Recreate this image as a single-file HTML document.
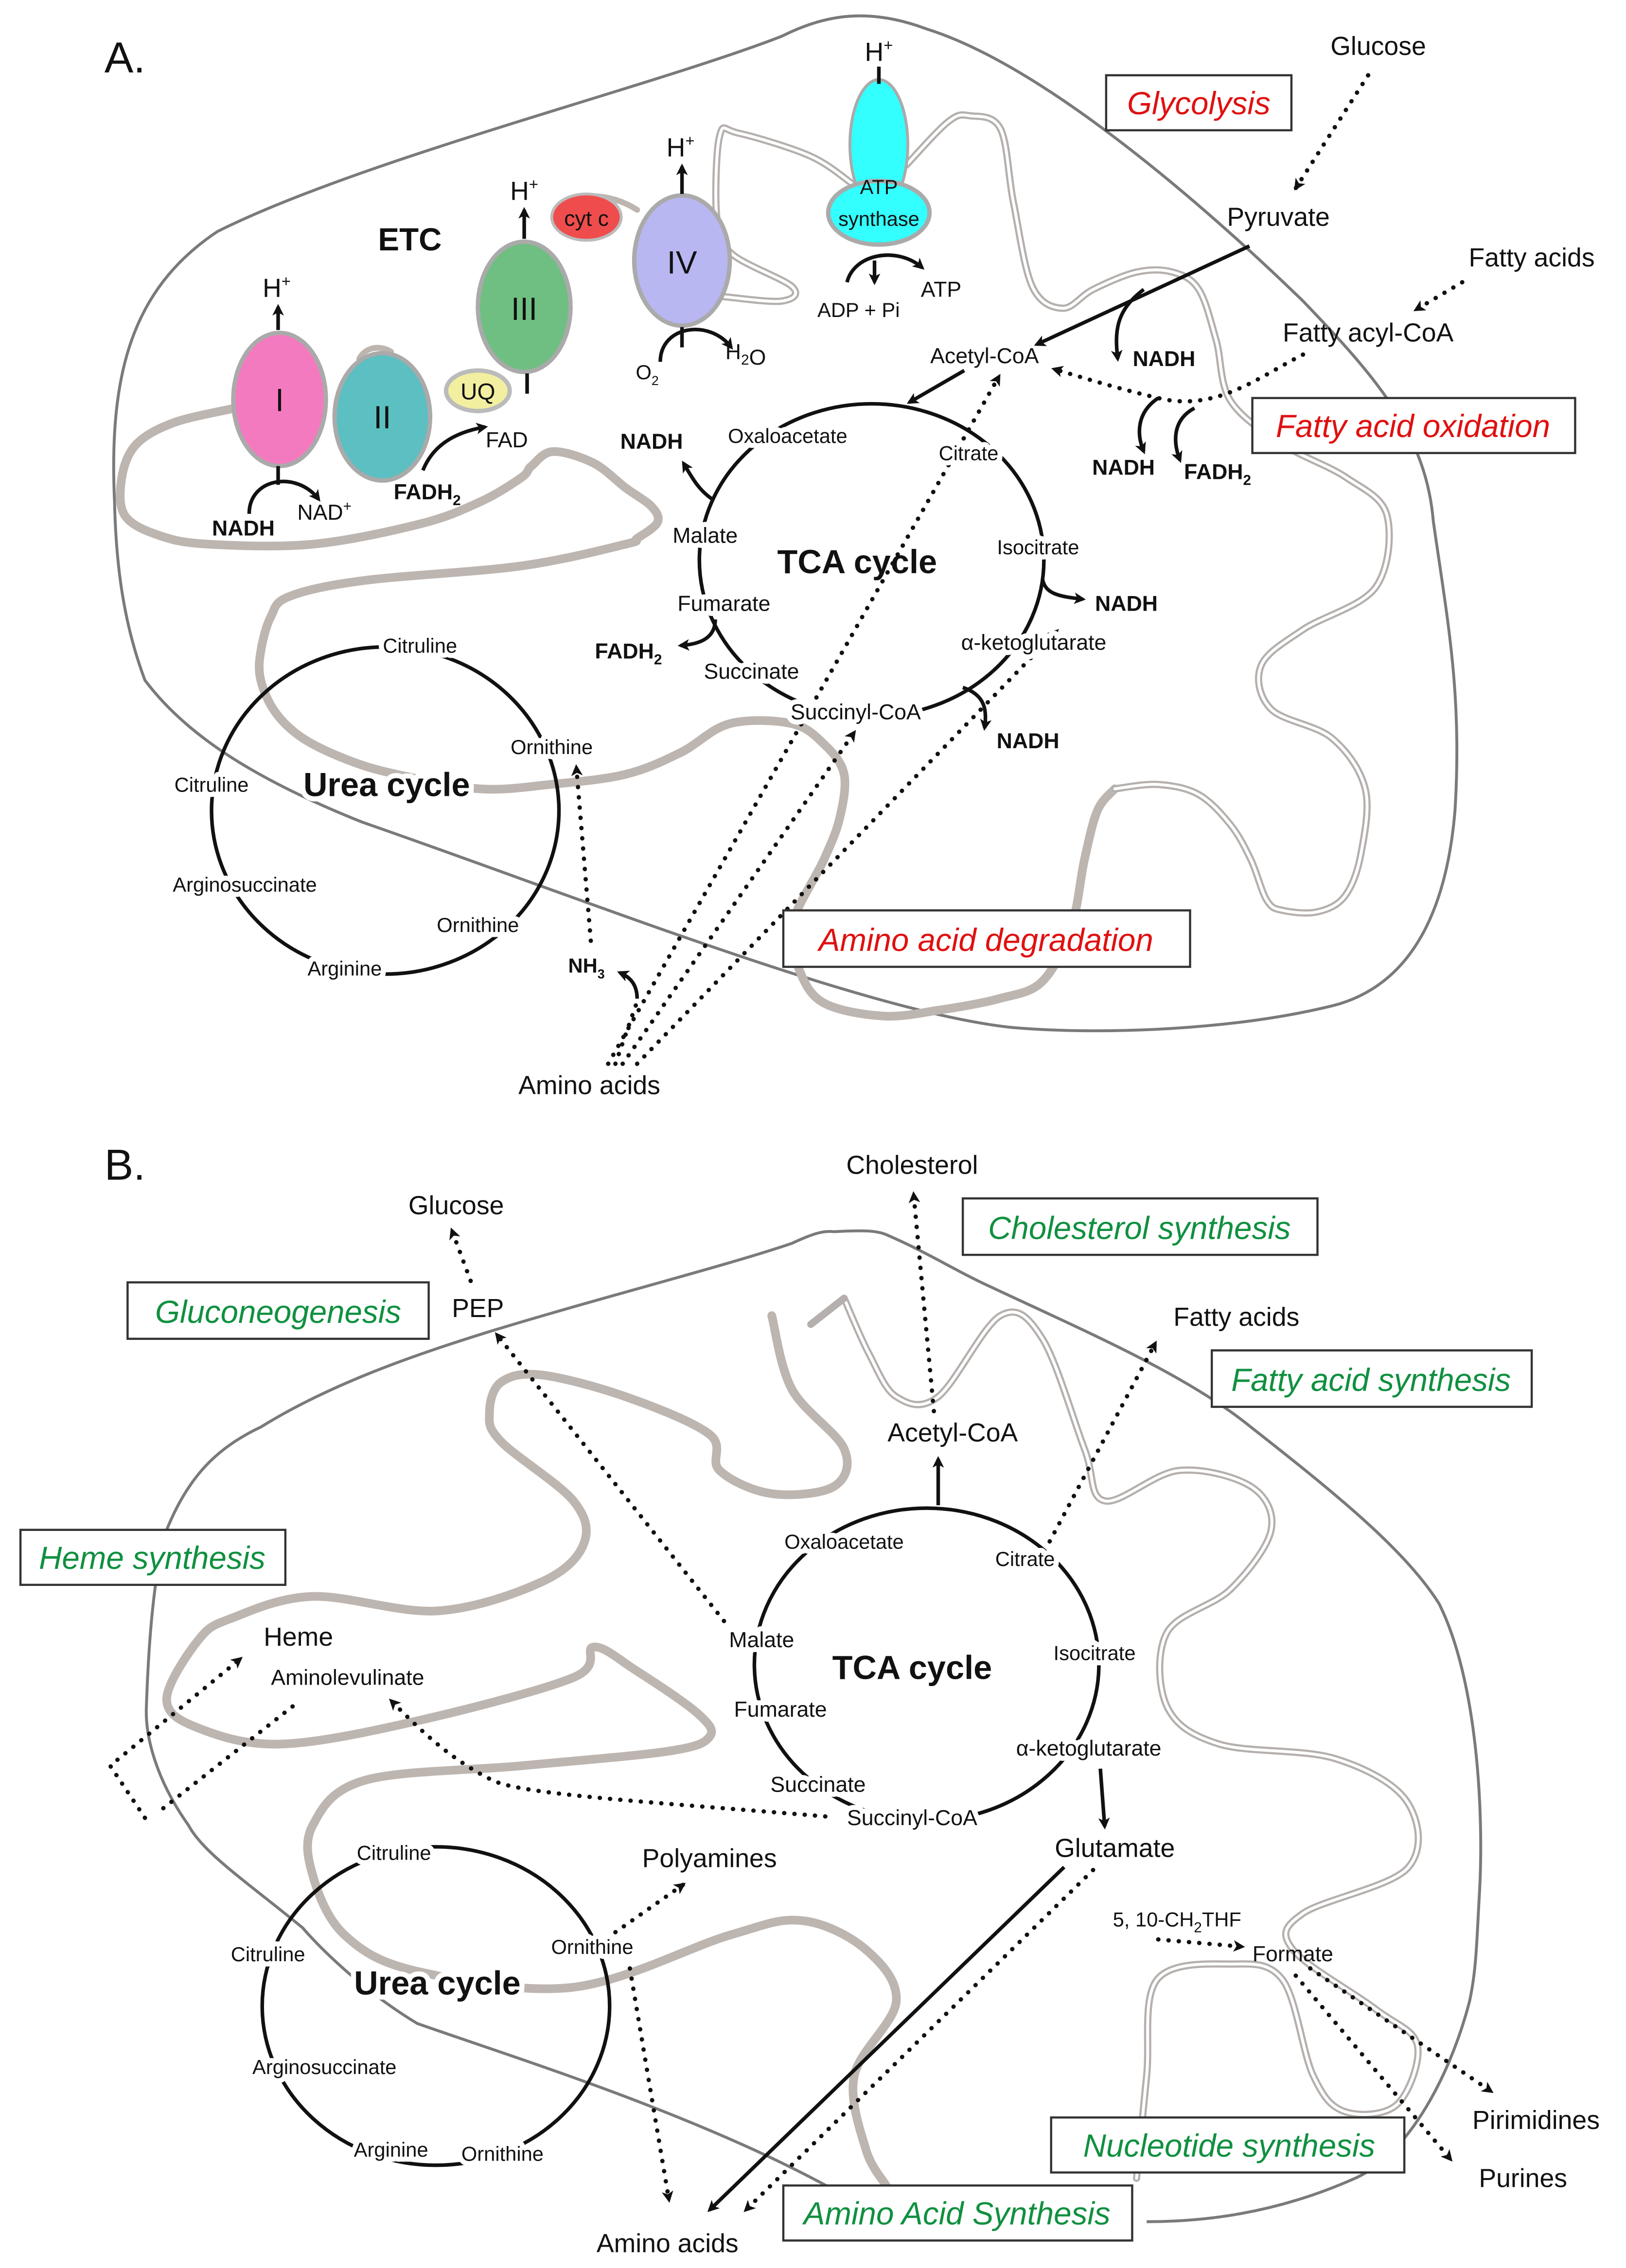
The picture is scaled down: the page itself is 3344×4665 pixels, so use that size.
<!DOCTYPE html>
<html><head><meta charset="utf-8"><style>
html,body{margin:0;padding:0;background:#fff}
svg{display:block}
text{font-family:"Liberation Sans",sans-serif;fill:#111}
.b{font-weight:bold}
.red{fill:#e01010;font-style:italic}
.grn{fill:#109040;font-style:italic}
.h{paint-order:stroke;stroke:#fff;stroke-width:7px;stroke-linejoin:round}
.om{fill:none;stroke:#7a7a7a;stroke-width:2}
.im{fill:none;stroke:#bdb5b0;stroke-width:6;stroke-linecap:round;stroke-linejoin:round}
.d1{fill:none;stroke:#b5b0ad;stroke-width:5;stroke-linejoin:round;stroke-linecap:round}
.d2{fill:none;stroke:#fff;stroke-width:2;stroke-linejoin:round;stroke-linecap:round}
.dot{fill:none;stroke:#111;stroke-width:3;stroke-dasharray:0.1 7;stroke-linecap:round}
.ln{fill:none;stroke:#111;stroke-width:2.5}
.cy{fill:none;stroke:#111;stroke-width:2.5}
.box{fill:#fff;stroke:#333;stroke-width:1.5}
</style></head><body>
<svg width="3344" height="4665" viewBox="0 0 1123 1567" xmlns="http://www.w3.org/2000/svg">
<defs>
<marker id="ar" markerWidth="8" markerHeight="8" refX="6" refY="4" orient="auto" markerUnits="userSpaceOnUse" viewBox="0 0 8 8"><path d="M0,0 L8,4 L0,8 L2,4 Z" fill="#111"/></marker>
</defs>
<rect width="1123" height="1567" fill="#fff"/>

<!-- ============ A ============ -->
<text x="72" y="50" font-size="30">A.</text>
<path class="om" d="M79,347 C75,260 90,200 150,160 C250,110 450,60 540,25 C570,10 600,5 640,20 C720,45 830,140 900,208 C950,260 985,300 990,360 C1000,430 1010,480 1005,560 C1000,620 980,680 920,695 C850,712 760,715 700,710 C600,700 400,620 250,568 C180,540 130,510 100,470 C85,430 80,390 79,347 Z"/>
<polyline class="im sm" points="162,282 120,292 94,307 84,330 86,356 110,370 144,376 216,376 290,362 331,347 360,330 367,322 382,312 410,320 432,337 450,350 454,361 440,372 432,376 360,391 252,401 200,412 187,426 180,450 180,470 190,492 209,510 240,525 274,535 331,545 380,542 432,535 470,520 504,500 547,500 570,515 583,535 580,565 569,594 547,639 552,670 569,693 610,702 648,698 690,690 720,678 740,640 749,594 758,560 770,545"/>
<polyline class="d1 sm" points="770,545 800,542 828,549 850,570 864,594 875,622 886,629 910,630 929,619 940,590 943,545 920,510 878,490 871,460 900,435 950,406 958,356 930,330 886,307 850,277 840,235 828,200 810,188 785,188 755,200 734,213 713,198 700,140 691,89 670,80 655,84 626,114"/>
<polyline class="d2 sm" points="770,545 800,542 828,549 850,570 864,594 875,622 886,629 910,630 929,619 940,590 943,545 920,510 878,490 871,460 900,435 950,406 958,356 930,330 886,307 850,277 840,235 828,200 810,188 785,188 755,200 734,213 713,198 700,140 691,89 670,80 655,84 626,114"/>
<polyline class="d1 sm" points="590,128 560,108 510,92 497,94 495,150 505,175 547,198 540,208 500,205"/>
<polyline class="d2 sm" points="590,128 560,108 510,92 497,94 495,150 505,175 547,198 540,208 500,205"/>
<path class="im" d="M248,248 C252,240 262,238 270,243" style="stroke-width:4"/>
<path class="im" d="M385,145 C395,133 420,132 440,145" style="stroke-width:4"/>
<!-- ETC -->
<text x="283" y="173" font-size="22" class="b" text-anchor="middle">ETC</text>
<ellipse cx="193" cy="276" rx="32" ry="46" fill="#f47ac0" stroke="#aaa" stroke-width="3"/>
<text x="193" y="284" font-size="22" text-anchor="middle">I</text>
<ellipse cx="264" cy="288" rx="33" ry="44" fill="#5cbfc2" stroke="#aaa" stroke-width="3"/>
<text x="264" y="296" font-size="22" text-anchor="middle">II</text>
<ellipse cx="330" cy="270" rx="22" ry="14" fill="#f2efa0" stroke="#bbb" stroke-width="3"/>
<text x="330" y="276" font-size="16" text-anchor="middle">UQ</text>
<ellipse cx="362" cy="212" rx="32" ry="45" fill="#6fbf82" stroke="#aaa" stroke-width="3"/>
<text x="362" y="221" font-size="22" text-anchor="middle">III</text>
<ellipse cx="405" cy="150" rx="24" ry="16" fill="#ef4d4d" stroke="#bbb" stroke-width="2"/>
<text x="405" y="156" font-size="15" text-anchor="middle" fill="#fff">cyt c</text>
<ellipse cx="471" cy="180" rx="33" ry="45" fill="#b8b7f2" stroke="#aaa" stroke-width="3"/>
<text x="471" y="189" font-size="22" text-anchor="middle">IV</text>
<ellipse cx="607" cy="100" rx="20" ry="45" fill="#33ffff" stroke="#aaa" stroke-width="2"/>
<ellipse cx="607" cy="147" rx="35" ry="22" fill="#33ffff" stroke="#aaa" stroke-width="3"/>
<text x="607" y="134" font-size="14" text-anchor="middle">ATP</text>
<text x="607" y="156" font-size="14" text-anchor="middle">synthase</text>
<text x="607" y="42" font-size="18" text-anchor="middle">H<tspan font-size="11" dy="-7">+</tspan></text>
<line class="ln" x1="607" y1="58" x2="607" y2="46"/>
<text x="191" y="205" font-size="18" text-anchor="middle">H<tspan font-size="11" dy="-7">+</tspan></text>
<line class="ln" x1="192" y1="228" x2="192" y2="212" marker-end="url(#ar)"/>
<text x="362" y="138" font-size="18" text-anchor="middle">H<tspan font-size="11" dy="-7">+</tspan></text>
<line class="ln" x1="362" y1="165" x2="362" y2="145" marker-end="url(#ar)"/>
<text x="470" y="108" font-size="18" text-anchor="middle">H<tspan font-size="11" dy="-7">+</tspan></text>
<line class="ln" x1="471" y1="134" x2="471" y2="115" marker-end="url(#ar)"/>
<line class="ln" x1="192" y1="322" x2="192" y2="335"/>
<line class="ln" x1="364" y1="258" x2="364" y2="272"/>
<line class="ln" x1="471" y1="226" x2="471" y2="240"/>
<path class="ln" d="M172,355 C172,330 205,325 220,345" marker-end="url(#ar)"/>
<text x="168" y="370" font-size="15" class="b" text-anchor="middle">NADH</text>
<text x="224" y="359" font-size="15" text-anchor="middle">NAD<tspan font-size="10" dy="-6">+</tspan></text>
<path class="ln" d="M292,325 C300,305 318,298 335,295" marker-end="url(#ar)"/>
<text x="295" y="345" font-size="15" class="b" text-anchor="middle">FADH<tspan font-size="10" dy="4">2</tspan></text>
<text x="350" y="309" font-size="15" text-anchor="middle">FAD</text>
<path class="ln" d="M456,250 C456,225 490,220 505,240" marker-end="url(#ar)"/>
<text x="447" y="262" font-size="14" text-anchor="middle">O<tspan font-size="9" dy="4">2</tspan></text>
<text x="515" y="248" font-size="15" text-anchor="middle">H<tspan font-size="10" dy="4">2</tspan>O</text>
<path class="ln" d="M604,180 L604,195" marker-end="url(#ar)"/>
<path class="ln" d="M585,195 C590,175 620,170 637,185" marker-end="url(#ar)"/>
<text x="593" y="219" font-size="14" text-anchor="middle">ADP + Pi</text>
<text x="650" y="205" font-size="15" text-anchor="middle">ATP</text>
<rect class="box" x="764" y="52" width="128" height="38"/>
<text x="828" y="79" font-size="22" class="red" text-anchor="middle">Glycolysis</text>
<text x="952" y="38" font-size="18" text-anchor="middle">Glucose</text>
<line class="dot" x1="945" y1="52" x2="895" y2="130" marker-end="url(#ar)"/>
<text x="883" y="156" font-size="18" text-anchor="middle">Pyruvate</text>
<line class="ln" x1="863" y1="170" x2="716" y2="238" marker-end="url(#ar)"/>
<path class="ln" d="M790,200 C770,215 770,230 772,248" marker-end="url(#ar)"/>
<text x="804" y="253" font-size="15" class="b" text-anchor="middle">NADH</text>
<text x="1058" y="184" font-size="18" text-anchor="middle">Fatty acids</text>
<line class="dot" x1="1010" y1="195" x2="978" y2="214" marker-end="url(#ar)"/>
<text x="945" y="236" font-size="18" text-anchor="middle">Fatty acyl-CoA</text>
<path class="dot" d="M900,245 C870,260 840,285 800,275 C770,268 745,260 728,255" marker-end="url(#ar)"/>
<rect class="box" x="865" y="275" width="223" height="38"/>
<text x="976" y="302" font-size="22" class="red" text-anchor="middle">Fatty acid oxidation</text>
<path class="ln" d="M800,275 C785,285 785,300 790,312" marker-end="url(#ar)"/>
<path class="ln" d="M825,282 C810,290 810,305 815,318" marker-end="url(#ar)"/>
<text x="776" y="328" font-size="15" class="b" text-anchor="middle">NADH</text>
<text x="841" y="331" font-size="15" class="b" text-anchor="middle">FADH<tspan font-size="10" dy="4">2</tspan></text>
<text x="680" y="251" font-size="15" text-anchor="middle">Acetyl-CoA</text>
<line class="ln" x1="666" y1="256" x2="628" y2="278" marker-end="url(#ar)"/>
<ellipse class="cy" cx="602" cy="387" rx="119" ry="108"/>
<line class="dot" x1="420" y1="735" x2="690" y2="260" marker-end="url(#ar)"/>
<line class="dot" x1="430" y1="735" x2="590" y2="506" marker-end="url(#ar)"/>
<line class="dot" x1="440" y1="735" x2="730" y2="436" marker-end="url(#ar)"/>
<text class="h" x="544" y="306" font-size="14" text-anchor="middle">Oxaloacetate</text>
<text class="h" x="669" y="318" font-size="14" text-anchor="middle">Citrate</text>
<text class="h" x="717" y="383" font-size="14" text-anchor="middle">Isocitrate</text>
<text class="h" x="714" y="449" font-size="15" text-anchor="middle">α-ketoglutarate</text>
<text class="h" x="591" y="497" font-size="15" text-anchor="middle">Succinyl-CoA</text>
<text class="h" x="519" y="469" font-size="15" text-anchor="middle">Succinate</text>
<text class="h" x="500" y="422" font-size="15" text-anchor="middle">Fumarate</text>
<text class="h" x="487" y="375" font-size="15" text-anchor="middle">Malate</text>
<text x="592" y="396" font-size="23" class="b" text-anchor="middle">TCA cycle</text>
<path class="ln" d="M492,345 C482,338 478,330 472,320" marker-end="url(#ar)"/>
<text x="450" y="310" font-size="15" class="b" text-anchor="middle">NADH</text>
<path class="ln" d="M720,400 C722,410 730,412 748,414" marker-end="url(#ar)"/>
<text x="778" y="422" font-size="15" class="b" text-anchor="middle">NADH</text>
<path class="ln" d="M494,428 C494,440 485,445 470,446" marker-end="url(#ar)"/>
<text x="434" y="455" font-size="15" class="b" text-anchor="middle">FADH<tspan font-size="10" dy="4">2</tspan></text>
<path class="ln" d="M665,475 C680,480 682,490 680,503" marker-end="url(#ar)"/>
<text x="710" y="517" font-size="15" class="b" text-anchor="middle">NADH</text>
<ellipse class="cy" cx="266" cy="560" rx="120" ry="113"/>
<text class="h" x="290" y="451" font-size="14" text-anchor="middle">Citruline</text>
<text class="h" x="146" y="547" font-size="14" text-anchor="middle">Citruline</text>
<text class="h" x="267" y="550" font-size="23" font-weight="bold" text-anchor="middle">Urea cycle</text>
<text class="h" x="381" y="521" font-size="14" text-anchor="middle">Ornithine</text>
<text class="h" x="169" y="616" font-size="14" text-anchor="middle">Arginosuccinate</text>
<text class="h" x="330" y="644" font-size="14" text-anchor="middle">Ornithine</text>
<text class="h" x="238" y="674" font-size="14" text-anchor="middle">Arginine</text>
<text x="405" y="672" font-size="14" class="b" text-anchor="middle">NH<tspan font-size="9" dy="4">3</tspan></text>
<line class="dot" x1="408" y1="650" x2="398" y2="530" marker-end="url(#ar)"/>
<text x="407" y="756" font-size="18" text-anchor="middle">Amino acids</text>
<path class="ln" d="M440,690 C440,680 435,675 428,672" marker-end="url(#ar)"/>
<line class="dot" x1="425" y1="735" x2="440" y2="692"/>
<rect class="box" x="541" y="629" width="281" height="39"/>
<text x="681" y="657" font-size="22" class="red" text-anchor="middle">Amino acid degradation</text>

<!-- ============ B ============ -->
<text x="72" y="815" font-size="30">B.</text>
<path class="om" d="M576,1513 C480,1460 350,1420 288,1398 C250,1375 220,1345 209,1332 C170,1300 140,1280 130,1261 C108,1230 100,1200 101,1179 C103,1120 108,1080 115,1057 C130,1020 150,1000 180,986 C230,955 290,935 338,920 C420,895 500,875 547,859 C560,853 568,850 576,851 C595,850 605,850 612,853 C640,865 660,878 684,889 C750,920 820,950 864,986 C920,1030 970,1070 994,1108 C1020,1160 1025,1250 1022,1306 C1020,1340 1020,1360 1015,1383 C1000,1440 970,1490 936,1505 C880,1530 830,1535 792,1535"/>
<polyline class="im sm" points="533,909 547,960 583,1001 576,1027 533,1032 497,1016 490,991 432,965 374,950 346,955 338,976 346,996 396,1037 403,1067 374,1093 302,1113 216,1103 160,1118 137,1133 115,1174 137,1194 194,1205 288,1189 396,1159 410,1138 439,1154 482,1184 490,1200 461,1210 360,1220 252,1230 216,1261 216,1296 238,1337 288,1362 396,1373 504,1337 554,1327 598,1347 619,1383 590,1434 598,1485 612,1510"/>
<polyline class="d1 sm" points="583,897 600,935 619,965 648,965 691,909 720,925 749,1001 763,1037 814,1016 864,1027 878,1057 850,1098 806,1128 806,1179 842,1205 922,1215 972,1245 972,1291 900,1322 893,1347 950,1388 979,1413 965,1454 929,1459 907,1434 886,1368 850,1357 799,1368 792,1434 785,1505"/>
<polyline class="d2 sm" points="583,897 600,935 619,965 648,965 691,909 720,925 749,1001 763,1037 814,1016 864,1027 878,1057 850,1098 806,1128 806,1179 842,1205 922,1215 972,1245 972,1291 900,1322 893,1347 950,1388 979,1413 965,1454 929,1459 907,1434 886,1368 850,1357 799,1368 792,1434 785,1505"/>
<polyline class="d1" points="583,897 560,915"/>
<text x="630" y="811" font-size="18" text-anchor="middle">Cholesterol</text>
<rect class="box" x="665" y="828" width="245" height="39"/>
<text x="787" y="856" font-size="22" class="grn" text-anchor="middle">Cholesterol synthesis</text>
<line class="dot" x1="645" y1="975" x2="631" y2="825" marker-end="url(#ar)"/>
<text x="315" y="839" font-size="18" text-anchor="middle">Glucose</text>
<line class="dot" x1="325" y1="885" x2="312" y2="850" marker-end="url(#ar)"/>
<text x="330" y="910" font-size="18" text-anchor="middle">PEP</text>
<rect class="box" x="88" y="886" width="208" height="39"/>
<text x="192" y="914" font-size="22" class="grn" text-anchor="middle">Gluconeogenesis</text>
<line class="dot" x1="500" y1="1120" x2="343" y2="922" marker-end="url(#ar)"/>
<text x="854" y="916" font-size="18" text-anchor="middle">Fatty acids</text>
<rect class="box" x="837" y="933" width="221" height="39"/>
<text x="947" y="961" font-size="22" class="grn" text-anchor="middle">Fatty acid synthesis</text>
<line class="dot" x1="725" y1="1065" x2="798" y2="928" marker-end="url(#ar)"/>
<text x="658" y="996" font-size="18" text-anchor="middle">Acetyl-CoA</text>
<line class="ln" x1="648" y1="1040" x2="648" y2="1008" marker-end="url(#ar)"/>
<rect class="box" x="14" y="1057" width="183" height="38"/>
<text x="105" y="1084" font-size="22" class="grn" text-anchor="middle">Heme synthesis</text>
<text x="206" y="1137" font-size="18" text-anchor="middle">Heme</text>
<text x="240" y="1164" font-size="15" text-anchor="middle">Aminolevulinate</text>
<path class="dot" d="M100,1256 L76,1220 L166,1146" marker-end="url(#ar)"/>
<line class="dot" x1="202" y1="1179" x2="108" y2="1253"/>
<path class="dot" d="M570,1255 C450,1245 360,1240 340,1230 C310,1215 290,1195 270,1175" marker-end="url(#ar)"/>
<ellipse class="cy" cx="640" cy="1150" rx="119" ry="108"/>
<text class="h" x="583" y="1070" font-size="14" text-anchor="middle">Oxaloacetate</text>
<text class="h" x="708" y="1082" font-size="14" text-anchor="middle">Citrate</text>
<text class="h" x="756" y="1147" font-size="14" text-anchor="middle">Isocitrate</text>
<text class="h" x="752" y="1213" font-size="15" text-anchor="middle">α-ketoglutarate</text>
<text class="h" x="630" y="1261" font-size="15" text-anchor="middle">Succinyl-CoA</text>
<text class="h" x="565" y="1238" font-size="15" text-anchor="middle">Succinate</text>
<text class="h" x="539" y="1186" font-size="15" text-anchor="middle">Fumarate</text>
<text class="h" x="526" y="1138" font-size="15" text-anchor="middle">Malate</text>
<text x="630" y="1160" font-size="23" class="b" text-anchor="middle">TCA cycle</text>
<line class="ln" x1="760" y1="1222" x2="763" y2="1262" marker-end="url(#ar)"/>
<text x="770" y="1283" font-size="18" text-anchor="middle">Glutamate</text>
<text x="813" y="1331" font-size="14" text-anchor="middle">5, 10-CH<tspan font-size="10" dy="4">2</tspan><tspan dy="-4">THF</tspan></text>
<line class="dot" x1="800" y1="1340" x2="858" y2="1345" marker-end="url(#ar)"/>
<text x="893" y="1355" font-size="15" text-anchor="middle">Formate</text>
<line class="dot" x1="905" y1="1360" x2="1030" y2="1445" marker-end="url(#ar)"/>
<line class="dot" x1="895" y1="1365" x2="1002" y2="1492" marker-end="url(#ar)"/>
<text x="1061" y="1471" font-size="18" text-anchor="middle">Pirimidines</text>
<text x="1052" y="1511" font-size="18" text-anchor="middle">Purines</text>
<rect class="box" x="726" y="1463" width="244" height="38"/>
<text x="849" y="1490" font-size="22" class="grn" text-anchor="middle">Nucleotide synthesis</text>
<line class="ln" x1="735" y1="1290" x2="490" y2="1527" marker-end="url(#ar)"/>
<line class="dot" x1="755" y1="1292" x2="515" y2="1527" marker-end="url(#ar)"/>
<ellipse class="cy" cx="301" cy="1386" rx="120" ry="110"/>
<line class="dot" x1="435" y1="1360" x2="462" y2="1520" marker-end="url(#ar)"/>
<text class="h" x="272" y="1285" font-size="14" text-anchor="middle">Citruline</text>
<text class="h" x="185" y="1355" font-size="14" text-anchor="middle">Citruline</text>
<text class="h" x="302" y="1378" font-size="23" font-weight="bold" text-anchor="middle">Urea cycle</text>
<text class="h" x="409" y="1350" font-size="14" text-anchor="middle">Ornithine</text>
<text class="h" x="224" y="1433" font-size="14" text-anchor="middle">Arginosuccinate</text>
<text class="h" x="270" y="1490" font-size="14" text-anchor="middle">Arginine</text>
<text class="h" x="347" y="1493" font-size="14" text-anchor="middle">Ornithine</text>
<text x="490" y="1290" font-size="18" text-anchor="middle">Polyamines</text>
<line class="dot" x1="425" y1="1335" x2="472" y2="1302" marker-end="url(#ar)"/>
<text x="461" y="1556" font-size="18" text-anchor="middle">Amino acids</text>
<rect class="box" x="541" y="1510" width="241" height="38"/>
<text x="661" y="1537" font-size="22" class="grn" text-anchor="middle">Amino Acid Synthesis</text>
</svg>
<script>
(function(){
var ns="http://www.w3.org/2000/svg";
var pls=document.querySelectorAll("polyline.sm");
for(var i=0;i<pls.length;i++){
 var pl=pls[i];
 var nums=pl.getAttribute("points").trim().split(/[\s,]+/).map(Number);
 var p=[];for(var k=0;k<nums.length;k+=2)p.push([nums[k],nums[k+1]]);
 var d="M"+p[0][0]+","+p[0][1];
 for(var j=0;j<p.length-1;j++){
  var p0=p[j-1]||p[j],p1=p[j],p2=p[j+1],p3=p[j+2]||p2;
  var c1x=p1[0]+(p2[0]-p0[0])/6,c1y=p1[1]+(p2[1]-p0[1])/6;
  var c2x=p2[0]-(p3[0]-p1[0])/6,c2y=p2[1]-(p3[1]-p1[1])/6;
  d+=" C"+c1x.toFixed(1)+","+c1y.toFixed(1)+" "+c2x.toFixed(1)+","+c2y.toFixed(1)+" "+p2[0]+","+p2[1];
 }
 var path=document.createElementNS(ns,"path");
 path.setAttribute("d",d);
 path.setAttribute("class",pl.getAttribute("class"));
 pl.parentNode.replaceChild(path,pl);
}
})();
</script>
</body></html>
